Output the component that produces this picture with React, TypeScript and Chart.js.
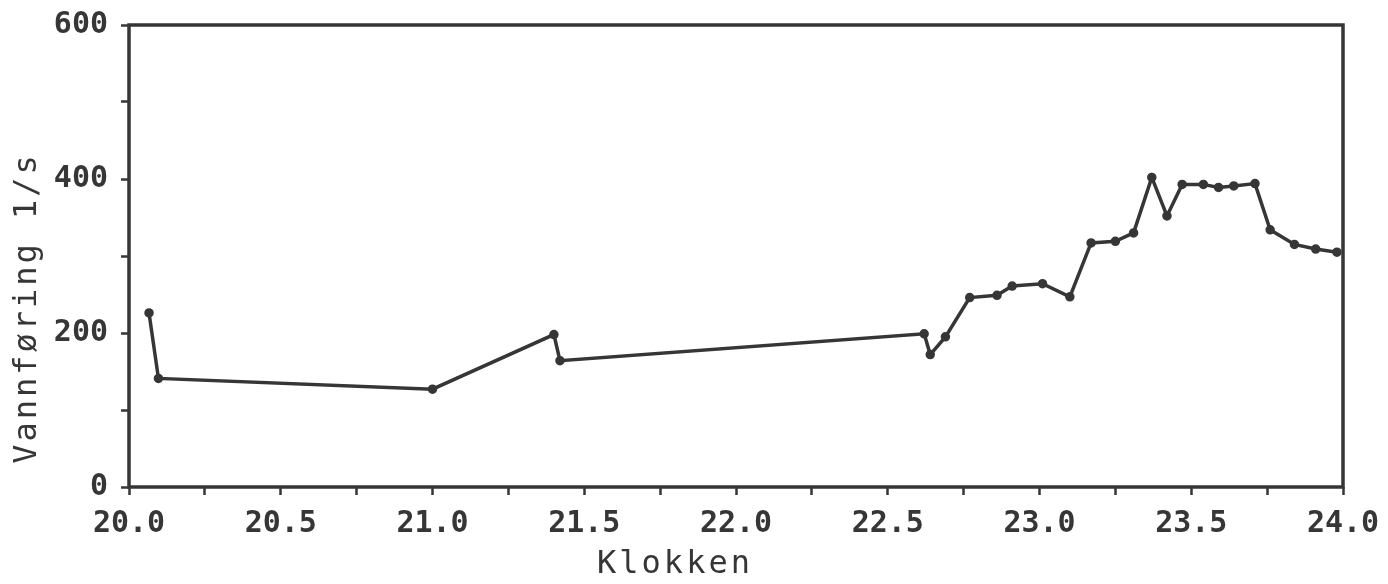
import { useEffect, useRef } from 'react';
import { Chart, registerables } from 'chart.js';

Chart.register(...registerables);

const timeHours = [20.066, 20.097, 21.0, 21.4, 21.42, 22.62, 22.64, 22.69, 22.77, 22.86, 22.91, 23.01, 23.1, 23.17, 23.25, 23.31, 23.37, 23.42, 23.47, 23.54, 23.59, 23.64, 23.71, 23.76, 23.84, 23.91, 23.98];
const flowValues = [226, 141, 127, 198, 164, 199, 172, 195, 246, 249, 261, 264, 247, 317, 319, 330, 402, 352, 393, 393, 389, 391, 394, 334, 315, 309, 305];
const xLabelSteps = [20.0, 20.5, 21.0, 21.5, 22.0, 22.5, 23.0, 23.5, 24.0];
const yLabelSteps = [0, 200, 400, 600];
const xTitle = 'Klokken';
const yTitle = 'Vannføring 1/s';

const INK = '#363636';
const FONT = '"DejaVu Sans Mono", monospace';

const framePlugin = {
  id: 'frameAndTitles',
  afterDraw(chart: any) {
    const { ctx, chartArea } = chart;
    ctx.save();
    ctx.strokeStyle = INK;
    ctx.lineWidth = 3.5;
    ctx.strokeRect(chartArea.left, chartArea.top, chartArea.right - chartArea.left, chartArea.bottom - chartArea.top);
    ctx.fillStyle = INK;
    ctx.font = `32px ${FONT}`;
    try { (ctx as any).letterSpacing = '3px'; } catch (e) {}
    ctx.textAlign = 'center';
    ctx.textBaseline = 'middle';
    ctx.fillText(xTitle, 675, 565);
    ctx.translate(28, 308);
    ctx.rotate(-Math.PI / 2);
    ctx.fillText(yTitle, 0, 0);
    ctx.restore();
  },
};

export default function App() {
  const canvasRef = useRef<HTMLCanvasElement | null>(null);

  useEffect(() => {
    if (!canvasRef.current) return;
    const isLabel = (v: number, list: number[]) => list.some((l) => Math.abs(l - v) < 1e-6);
    const chart = new Chart(canvasRef.current, {
      type: 'line',
      data: {
        datasets: [
          {
            data: timeHours.map((t, i) => ({ x: t, y: flowValues[i] })),
            borderColor: INK,
            backgroundColor: INK,
            borderWidth: 3.5,
            pointRadius: 3,
            pointBackgroundColor: INK,
            pointBorderColor: INK,
            tension: 0,
          },
        ],
      },
      options: {
        responsive: false,
        animation: false,
        layout: { padding: { top: 25, right: 45, left: 0, bottom: 0 } },
        plugins: { legend: { display: false }, tooltip: { enabled: false } },
        scales: {
          x: {
            type: 'linear',
            min: 20,
            max: 24,
            border: { display: false },
            grid: { drawOnChartArea: false, drawTicks: true, tickLength: 8, tickWidth: 2.5, tickColor: INK },
            ticks: {
              stepSize: 0.25,
              autoSkip: false,
              maxRotation: 0,
              padding: 11,
              color: INK,
              font: { family: FONT, size: 30, weight: 'bold' },
              callback: (v: any) => (isLabel(Number(v), xLabelSteps) ? Number(v).toFixed(1) : ''),
            },
            afterFit: (scale: any) => {
              scale.height = 97;
              scale.paddingLeft = 0;
              scale.paddingRight = 0;
            },
          },
          y: {
            min: 0,
            max: 600,
            border: { display: false },
            grid: { drawOnChartArea: false, drawTicks: true, tickLength: 8, tickWidth: 2.5, tickColor: INK },
            ticks: {
              stepSize: 100,
              autoSkip: false,
              padding: 13,
              color: INK,
              font: { family: FONT, size: 30, weight: 'bold' },
              callback: (v: any) => (isLabel(Number(v), yLabelSteps) ? String(v) : ''),
            },
            afterFit: (scale: any) => {
              scale.width = 129;
              scale.paddingTop = 0;
              scale.paddingBottom = 0;
            },
          },
        },
      },
      plugins: [framePlugin],
    });
    return () => chart.destroy();
  }, []);

  return (
    <div style={{ position: 'fixed', left: 0, top: 0, width: 1388, height: 584, background: '#fff' }}>
      <canvas ref={canvasRef} width={1388} height={584} style={{ display: 'block' }} />
    </div>
  );
}
